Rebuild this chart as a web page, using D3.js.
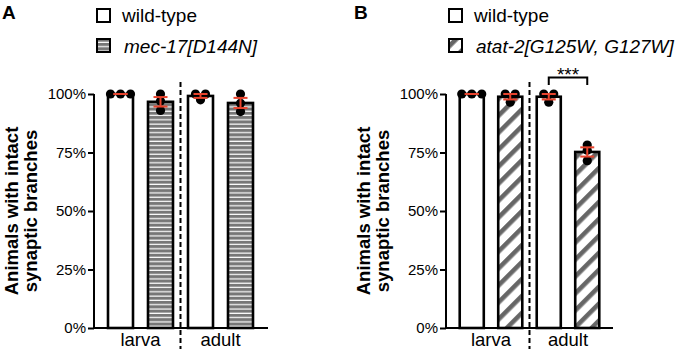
<!DOCTYPE html>
<html>
<head>
<meta charset="utf-8">
<script src="https://cdn.jsdelivr.net/npm/d3@7"></script>
<style>
  body { margin: 0; background: #fff; }
  svg text { font-family: "Liberation Sans", Arial, sans-serif; }
</style>
</head>
<body>
<svg id="fig" width="685" height="349"></svg>
<script>
// data
const stages = ["larva", "adult"]
const yTicks = [0, 25, 50, 75, 100]
const genotypesA = ["wild-type", "mec-17[D144N]"]
const genotypesB = ["wild-type", "atat-2[G125W, G127W]"]

// % animals with intact branches, one array per bar (larva wt, larva mut, adult wt, adult mut)
const pointsA = [[100, 100, 100], [100, 97, 93], [100, 97.5, 100], [100, 96, 92.5]]
const pointsB = [[100, 100, 100], [100, 96.5, 100], [100, 96.5, 100], [78.2, 76, 71.5]]
const signifB = ["***"]

const svg = d3.select("#fig")
const red = "#e8432d"

/* fill patterns */
const defs = svg.append("defs")
let stripes = defs.append("pattern")
                  .attr("id", "hstripe")
                  .attr("patternUnits", "userSpaceOnUse")
                  .attr("width", 6).attr("height", 4.3)
stripes.append("rect").attr("width", 6).attr("height", 4.3).style("fill", "#777")
stripes.append("rect").attr("y", 3.1).attr("width", 6).attr("height", 1.2).style("fill", "#fff")

let hatch = defs.append("pattern")
                .attr("id", "dstripe")
                .attr("patternUnits", "userSpaceOnUse")
                .attr("width", 12).attr("height", 12)
                .attr("patternTransform", "rotate(45)")
hatch.append("rect").attr("width", 12).attr("height", 12).style("fill", "#fff")
hatch.append("rect").attr("width", 4.6).attr("height", 12).style("fill", "#666")

// shared y scale
const y = d3.scaleLinear()
            .domain([0, 100])
            .range([328, 94])

function drawPanel(opt) {
  const g = svg.append("g")

  // panel letter
  g.append("text")
   .attr("x", opt.axisX - 92).attr("y", 19)
   .style("font-weight", "bold").style("font-size", "19px")
   .text(opt.letter)

  // legend
  opt.genotypes.forEach(function(name, i) {
    g.append("rect")
     .attr("x", opt.axisX + 3).attr("y", 9 + i * 30)
     .attr("width", 13).attr("height", 13)
     .style("fill", i == 0 ? "#fff" : opt.fill)
     .style("stroke", "#000").style("stroke-width", 2)
    g.append("text")
     .attr("x", opt.axisX + 28 + i * 2).attr("y", 22 + i * 31)
     .style("font-size", "19px")
     .style("font-style", i == 0 ? "normal" : "italic")
     .text(name)
  })

  // x scales: one band per stage, one inner band per genotype
  const x0 = d3.scaleBand()
               .domain(stages)
               .range([opt.axisX + 6.5, opt.axisX + 6.5 + 2 * opt.groupW])
  const x1 = d3.scaleBand()
               .domain(opt.genotypes)
               .range([0, opt.groupW])
               .paddingInner(0.375)
               .paddingOuter(0.1875)

  let bars = []
  stages.forEach(function(s, si) {
    opt.genotypes.forEach(function(gt, gi) {
      let vals = opt.points[si * 2 + gi]
      bars.push({
        stage: s, geno: gt, mut: gi == 1, vals: vals,
        mean: d3.mean(vals),
        sem: d3.deviation(vals) / Math.sqrt(vals.length),
        cx: x0(s) + x1(gt) + x1.bandwidth() / 2
      })
    })
  })

  // bars
  g.selectAll(".bar")
   .data(bars)
   .enter()
   .append("rect")
   .attr("x", d => d.cx - x1.bandwidth() / 2)
   .attr("y", d => y(d.mean))
   .attr("width", x1.bandwidth())
   .attr("height", d => y(0) - y(d.mean))
   .style("fill", d => d.mut ? opt.fill : "#fff")
   .style("stroke", "#000")
   .style("stroke-width", 2.6)

  // dots: equal values share a row and are spread sideways
  bars.forEach(function(b) {
    let rows = d3.groups(b.vals, v => v)
    rows.forEach(function(row) {
      row[1].forEach(function(v, k) {
        g.append("circle")
         .attr("cx", b.cx + (k - (row[1].length - 1) / 2) * 10)
         .attr("cy", y(v))
         .attr("r", 4.6)
         .style("fill", "#000")
      })
    })
  })

  // error bars (mean +/- sem)
  bars.forEach(function(b) {
    let e = g.append("g").style("stroke", red).style("stroke-width", 2)
    e.append("line").attr("x1", b.cx).attr("x2", b.cx)
     .attr("y1", y(b.mean + b.sem)).attr("y2", y(b.mean - b.sem))
    e.append("line").attr("x1", b.cx - 7).attr("x2", b.cx + 7)
     .attr("y1", y(b.mean + b.sem)).attr("y2", y(b.mean + b.sem))
    e.append("line").attr("x1", b.cx - 7).attr("x2", b.cx + 7)
     .attr("y1", y(b.mean - b.sem)).attr("y2", y(b.mean - b.sem))
  })

  // y axis
  const yAxis = g.append("g")
                 .attr("transform", "translate(" + opt.axisX + ",0)")
                 .call(d3.axisLeft(y).tickValues(yTicks).tickSize(6).tickPadding(2)
                         .tickFormat(d => d + "%"))
  yAxis.select(".domain").attr("d", "M0," + y(100) + "V" + y(0)).style("stroke-width", 2)
  yAxis.selectAll(".tick line").style("stroke-width", 2)
  yAxis.selectAll("text").style("font-size", "15px").style("fill", "#000")
       .attr("font-family", null)

  // x axis line
  g.append("line")
   .attr("x1", opt.axisX - 1).attr("x2", opt.axisEnd)
   .attr("y1", y(0)).attr("y2", y(0))
   .style("stroke", "#000").style("stroke-width", 2)

  // stage labels
  g.selectAll(".stage")
   .data(stages)
   .enter()
   .append("text")
   .attr("x", d => x0(d) + opt.groupW / 2)
   .attr("y", 346)
   .attr("text-anchor", "middle")
   .style("font-size", "18.5px")
   .text(d => d)

  // dashed divider
  g.append("line")
   .attr("x1", x0("adult")).attr("x2", x0("adult"))
   .attr("y1", 82).attr("y2", 349)
   .style("stroke", "#000").style("stroke-width", 2)
   .style("stroke-dasharray", "5,3")

  // y title
  let title = g.append("text")
               .attr("transform", "translate(" + (opt.axisX - 76.5) + "," + y(50) + ") rotate(-90)")
               .attr("text-anchor", "middle")
               .style("font-weight", "bold").style("font-size", "18.5px")
  title.append("tspan").attr("x", 0).attr("y", 0).text("Animals with intact")
  title.append("tspan").attr("x", 0).attr("y", 19.5).text("synaptic branches")

  return { g: g, bars: bars }
}

drawPanel({ letter: "A", axisX: 94, groupW: 80, axisEnd: 268,
            genotypes: genotypesA, points: pointsA, fill: "url(#hstripe)" })

let panelB = drawPanel({ letter: "B", axisX: 446, groupW: 77, axisEnd: 613,
                         genotypes: genotypesB, points: pointsB, fill: "url(#dstripe)" })

// significance bracket between adult bars in B
let b1 = panelB.bars[2], b2 = panelB.bars[3]
panelB.g.append("path")
        .attr("d", "M" + b1.cx + ",85V77.5H" + b2.cx + "V85")
        .style("fill", "none").style("stroke", "#000").style("stroke-width", 2)
panelB.g.append("text")
        .attr("x", (b1.cx + b2.cx) / 2).attr("y", 81)
        .attr("text-anchor", "middle")
        .style("font-size", "19px")
        .text(signifB[0])
</script>
</body>
</html>
